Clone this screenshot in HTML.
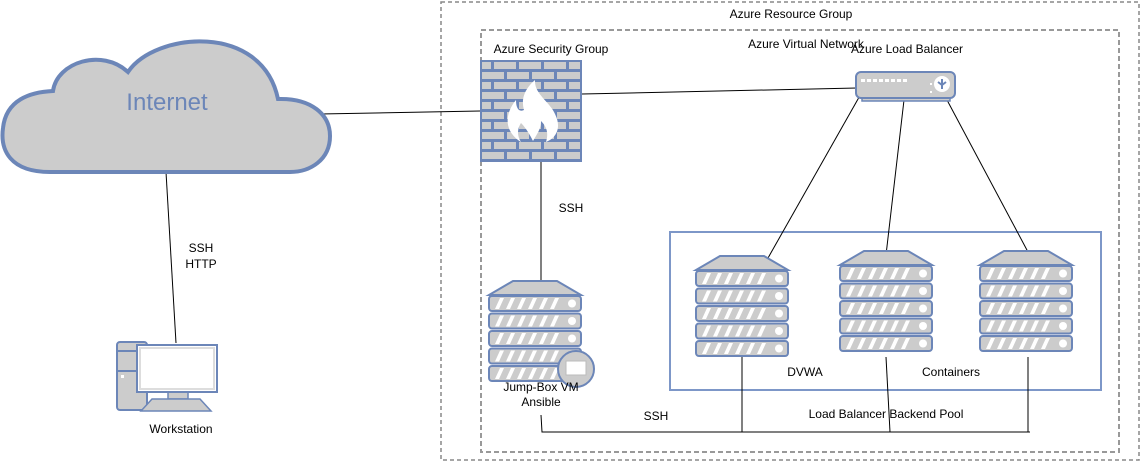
<!DOCTYPE html>
<html><head><style>
html,body{margin:0;padding:0;background:#fff;}
svg{display:block;font-family:"Liberation Sans",Arial,sans-serif;}
</style></head><body>
<svg width="1142" height="462" viewBox="0 0 1142 462" xmlns="http://www.w3.org/2000/svg">
<defs>
<g id="srv">
  <path d="M24,0 H68 L92,14 H0 Z" fill="#ccc" stroke="#6c86b8" stroke-width="2"/>
  <g id="row">
    <rect x="0" y="15" width="92" height="15" rx="3" fill="#ccc" stroke="#6c86b8" stroke-width="2"/>
    <path d="M6,28 l5,-11 h4 l-5,11z M17,28 l5,-11 h4 l-5,11z M28,28 l5,-11 h4 l-5,11z M39,28 l5,-11 h4 l-5,11z M50,28 l5,-11 h4 l-5,11z M61,28 l5,-11 h4 l-5,11z" fill="#fff"/>
    <circle cx="83" cy="22.5" r="4" fill="#fff"/>
  </g>
  <use href="#row" y="17.5"/>
  <use href="#row" y="35"/>
  <use href="#row" y="52.5"/>
  <use href="#row" y="70"/>
</g>
</defs>

<rect x="441" y="2" width="698" height="458" fill="none" stroke="#888" stroke-width="1.5" stroke-dasharray="4,3"/>
<rect x="481" y="30" width="638" height="422" fill="none" stroke="#999" stroke-width="2" stroke-dasharray="5,3"/>
<rect x="670" y="232" width="431" height="158" fill="none" stroke="#7d97c8" stroke-width="2"/>

<g stroke="#000" stroke-width="1" fill="none">
<line x1="320" y1="114" x2="480" y2="111"/>
<line x1="582" y1="94" x2="857" y2="88"/>
<line x1="541" y1="162" x2="541" y2="282"/>
<line x1="862" y1="92" x2="768" y2="258"/>
<line x1="904" y1="100" x2="886" y2="255"/>
<line x1="947" y1="100" x2="1028" y2="252"/>
<line x1="166" y1="172" x2="176" y2="343"/>
<polyline points="541,415 542,432 1030,432"/>
<line x1="742" y1="357" x2="742" y2="432"/>
<line x1="886" y1="357" x2="890" y2="432"/>
<line x1="1028" y1="357" x2="1028" y2="432"/>
</g>

<path d="M50,172 C10,172 0,150 3,128 C6,100 30,92 53,91 C57,62 102,48 128,72 C155,32 262,22 278,99 C312,98 330,115 330,136 C330,160 310,172 290,172 Z" fill="#ccc" stroke="#6c86b8" stroke-width="4"/>
<text x="167" y="110" font-size="24" fill="#6c86b8" text-anchor="middle">Internet</text>

<rect x="480" y="60" width="102" height="102" fill="#6c86b8"/>
<g fill="#ccc">
<g id="br1"><rect x="482" y="62" width="9" height="7"/><rect x="494" y="62" width="22" height="7"/><rect x="519" y="62" width="22" height="7"/><rect x="544" y="62" width="22" height="7"/><rect x="569" y="62" width="11" height="7"/></g>
<g id="br2"><rect x="482" y="72" width="22" height="7"/><rect x="507" y="72" width="22" height="7"/><rect x="532" y="72" width="22" height="7"/><rect x="557" y="72" width="23" height="7"/></g>
<use href="#br1" y="20"/><use href="#br2" y="20"/>
<use href="#br1" y="40"/><use href="#br2" y="40"/>
<use href="#br1" y="60"/><use href="#br2" y="60"/>
<use href="#br1" y="80"/><use href="#br2" y="80"/>
</g>
<path d="M521,142 C502,130 506,112 516,100 C516,110 520,112 524,110 C520,96 528,86 535,80 C534,94 550,102 555,114 C562,128 556,138 546,142 C549,132 546,126 541,121 C541,129 537,134 533,141 C529,133 525,127 521,123 C517,129 517,136 521,142 Z" fill="#fff"/>

<rect x="862" y="88" width="88" height="13" fill="#ccc" stroke="#6c86b8" stroke-width="1.5"/>
<rect x="856" y="72" width="99" height="26" rx="5" fill="#ccc" stroke="#6c86b8" stroke-width="2"/>
<g fill="#fff"><rect x="861" y="79" width="4" height="3"/><rect x="867" y="79" width="4" height="3"/><rect x="873" y="79" width="4" height="3"/><rect x="879" y="79" width="4" height="3"/><rect x="885" y="79" width="4" height="3"/><rect x="891" y="79" width="4" height="3"/><rect x="897" y="79" width="4" height="3"/><rect x="903" y="79" width="4" height="3"/><rect x="930" y="83" width="2" height="2"/><rect x="930" y="91" width="2" height="2"/></g>
<circle cx="942" cy="84" r="8" fill="#fff"/>
<path d="M942,79 v10 M938,82 l4,3 l4,-3" stroke="#6c86b8" stroke-width="2" fill="none"/>

<use href="#srv" x="489" y="281"/>
<use href="#srv" x="696" y="256"/>
<use href="#srv" x="840" y="251"/>
<use href="#srv" x="980" y="251"/>
<circle cx="576" cy="369" r="18" fill="#ccc" stroke="#6c86b8" stroke-width="2"/>
<rect x="566" y="361" width="20" height="14" fill="#fff" stroke="#bbb"/>

<rect x="117" y="342" width="30" height="68" rx="3" fill="#ccc" stroke="#6c86b8" stroke-width="2"/>
<line x1="117" y1="351" x2="147" y2="351" stroke="#6c86b8" stroke-width="2"/>
<line x1="117" y1="371" x2="147" y2="371" stroke="#6c86b8" stroke-width="2"/>
<rect x="121" y="375" width="3" height="3" fill="#fff"/>
<rect x="168" y="391" width="20" height="8" fill="#ccc" stroke="#6c86b8" stroke-width="1.5"/>
<rect x="137" y="345" width="80" height="47" fill="#fff" stroke="#6c86b8" stroke-width="2"/>
<rect x="140" y="348" width="74" height="41" fill="none" stroke="#ddd" stroke-width="2"/>
<path d="M152,399 H200 L211,411 H141 Z" fill="#ccc" stroke="#6c86b8" stroke-width="1.5"/>

<g font-size="12" fill="#000">
<text x="791" y="18" text-anchor="middle">Azure Resource Group</text>
<text x="806" y="48" text-anchor="middle">Azure Virtual Network</text>
<text x="907" y="53" text-anchor="middle">Azure Load Balancer</text>
<text x="551" y="53" text-anchor="middle">Azure Security Group</text>
<text x="571" y="212" text-anchor="middle">SSH</text>
<text x="201" y="252" text-anchor="middle">SSH</text>
<text x="201" y="268" text-anchor="middle">HTTP</text>
<text x="541" y="391" text-anchor="middle">Jump-Box VM</text>
<text x="541" y="406" text-anchor="middle">Ansible</text>
<text x="656" y="420" text-anchor="middle">SSH</text>
<text x="805" y="376" text-anchor="middle">DVWA</text>
<text x="951" y="376" text-anchor="middle">Containers</text>
<text x="886" y="418" text-anchor="middle">Load Balancer Backend Pool</text>
<text x="181" y="433" text-anchor="middle">Workstation</text>
</g>
</svg>
</body></html>
